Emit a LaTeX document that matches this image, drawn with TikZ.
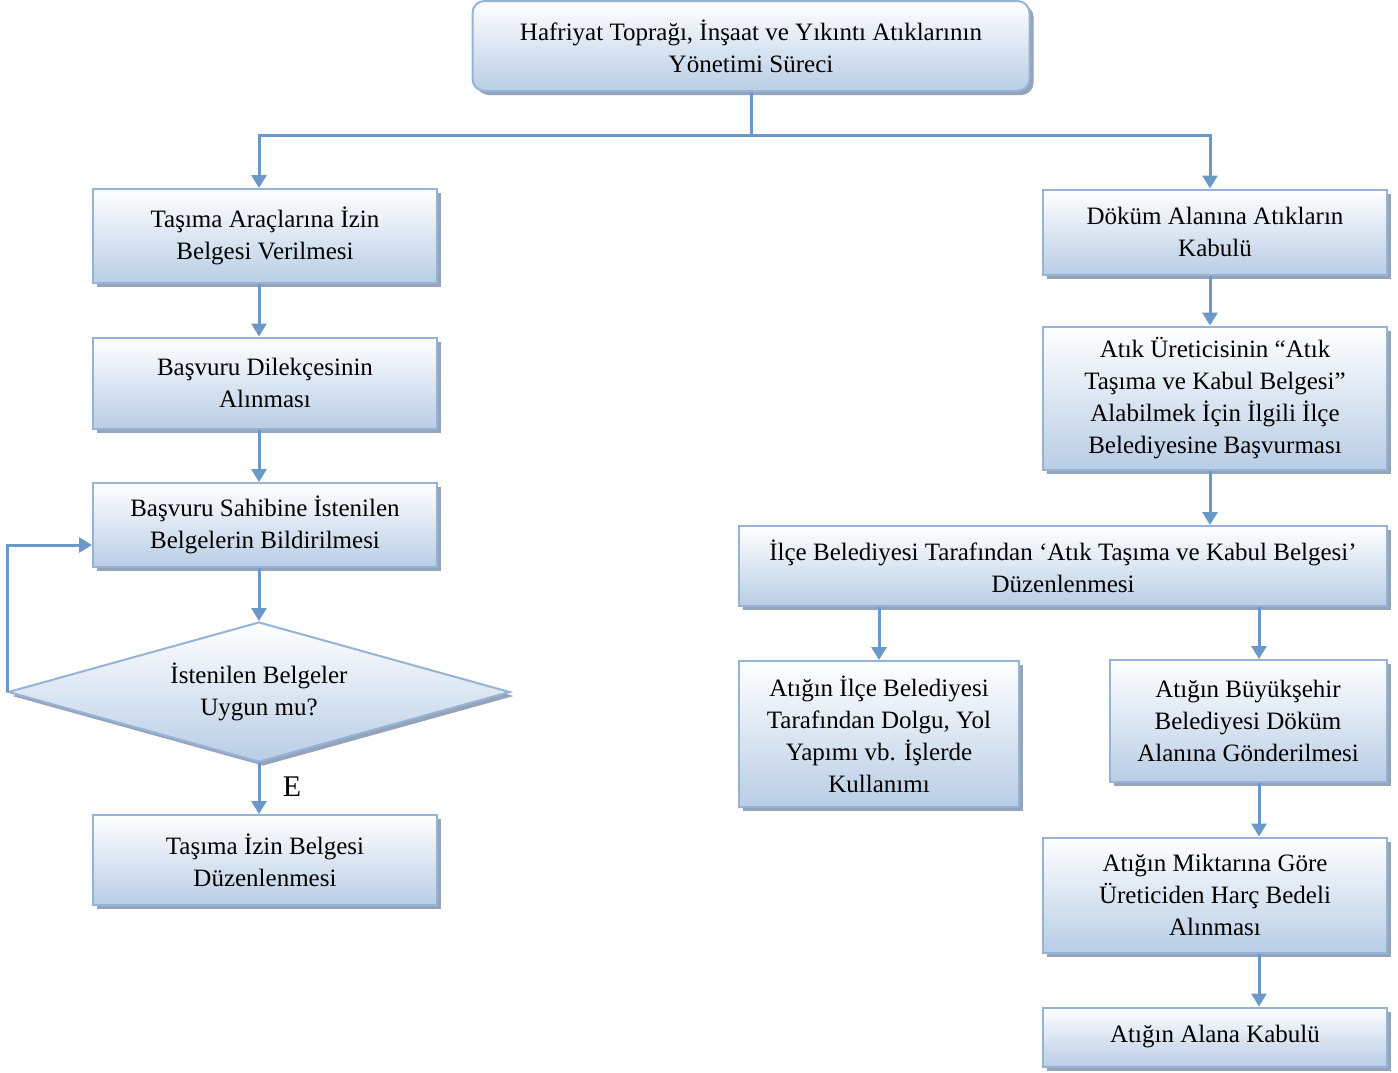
\documentclass[tikz,border=0pt]{standalone}
\usepackage{fontspec}
\setmainfont{Liberation Serif}
\usetikzlibrary{shapes.geometric,arrows.meta,shadows,calc}

\definecolor{linecol}{RGB}{108,152,199}
\definecolor{boxline}{RGB}{149,179,215}
\definecolor{boxbot}{RGB}{185,205,229}
\definecolor{shadecol}{RGB}{150,164,186}

\tikzset{
  stepbox/.style={draw=boxline, line width=1pt, top color=white, bottom color=boxbot,
    align=center, inner sep=2pt, font=\fontsize{12.5}{16}\selectfont,
    drop shadow={shadow xshift=2pt, shadow yshift=-2pt, fill=shadecol, opacity=1}},
  askbox/.style={stepbox, diamond, aspect=5, inner sep=0pt},
  flow/.style={draw=linecol, line width=1.5pt, -{Triangle[width=7.5pt,length=6.5pt]}},
  link/.style={draw=linecol, line width=1.5pt}
}

\begin{document}
\begin{tikzpicture}[x=0.5pt,y=-0.5pt]
  \useasboundingbox (0,0) rectangle (1398,1072);

  % baslik
  \node[stepbox, rounded corners=6pt, minimum width=278.5pt, minimum height=45pt] (top) at (751,46)
    {Hafriyat Toprağı, İnşaat ve Yıkıntı Atıklarının\\Yönetimi Süreci};

  % sol kol
  \node[stepbox, minimum width=172pt, minimum height=47pt] (T1) at (265,236)
    {Taşıma Araçlarına İzin\\Belgesi Verilmesi};
  \node[stepbox, minimum width=172pt, minimum height=45.5pt] (T2) at (265,383)
    {Başvuru Dilekçesinin\\Alınması};
  \node[stepbox, minimum width=172pt, minimum height=42pt] (T3) at (265,525)
    {Başvuru Sahibine İstenilen\\Belgelerin Bildirilmesi};
  \node[askbox, minimum width=251pt, minimum height=70pt] (dia) at (259,692)
    {İstenilen Belgeler\\Uygun mu?};
  \node[stepbox, minimum width=172pt, minimum height=45pt] (T4) at (265,860)
    {Taşıma İzin Belgesi\\Düzenlenmesi};
  \node[font=\fontsize{15}{18}\selectfont] (evet) at (292,787) {E};

  % sag kol
  \node[stepbox, minimum width=172pt, minimum height=42.5pt] (R1) at (1215,232)
    {Döküm Alanına Atıkların\\Kabulü};
  \node[stepbox, minimum width=172pt, minimum height=71.5pt] (R2) at (1215,398)
    {Atık Üreticisinin “Atık\\Taşıma ve Kabul Belgesi”\\Alabilmek İçin İlgili İlçe\\Belediyesine Başvurması};
  \node[stepbox, minimum width=324pt, minimum height=40pt] (R3) at (1063,566)
    {İlçe Belediyesi Tarafından ‘Atık Taşıma ve Kabul Belgesi’\\Düzenlenmesi};
  \node[stepbox, minimum width=140pt, minimum height=73pt] (R4) at (879,734)
    {Atığın İlçe Belediyesi\\Tarafından Dolgu, Yol\\Yapımı vb. İşlerde\\Kullanımı};
  \node[stepbox, minimum width=138.5pt, minimum height=61pt] (R5) at (1248,721)
    {Atığın Büyükşehir\\Belediyesi Döküm\\Alanına Gönderilmesi};
  \node[stepbox, minimum width=172pt, minimum height=57.5pt] (R6) at (1215,895)
    {Atığın Miktarına Göre\\Üreticiden Harç Bedeli\\Alınması};
  \node[stepbox, minimum width=172pt, minimum height=29.5pt] (R7) at (1215,1037)
    {Atığın Alana Kabulü};

  % ok hatlari
  \coordinate (ll) at (259,0);
  \coordinate (rr) at (1210,0);
  \coordinate (rl) at (1259,0);
  \coordinate (split) at ($(top.south)+(0,43)$);

  \draw[link] (top.south) -- (split);
  \draw[flow] (split) -| (T1.north -| ll);
  \draw[flow] (split) -| (R1.north -| rr);

  \draw[flow] (T1.south -| ll) -- (T2.north -| ll);
  \draw[flow] (T2.south -| ll) -- (T3.north -| ll);
  \draw[flow] (T3.south -| ll) -- (dia.north);
  \draw[flow] (dia.south) -- (T4.north -| ll);
  \draw[flow] (dia.west) |- ($(T3.west)+(0,20)$);

  \draw[flow] (R1.south -| rr) -- (R2.north -| rr);
  \draw[flow] (R2.south -| rr) -- (R3.north -| rr);
  \draw[flow] (R3.south -| R4) -- (R4.north);
  \draw[flow] (R3.south -| rl) -- (R5.north -| rl);
  \draw[flow] (R5.south -| rl) -- (R6.north -| rl);
  \draw[flow] (R6.south -| rl) -- (R7.north -| rl);
\end{tikzpicture}
\end{document}
